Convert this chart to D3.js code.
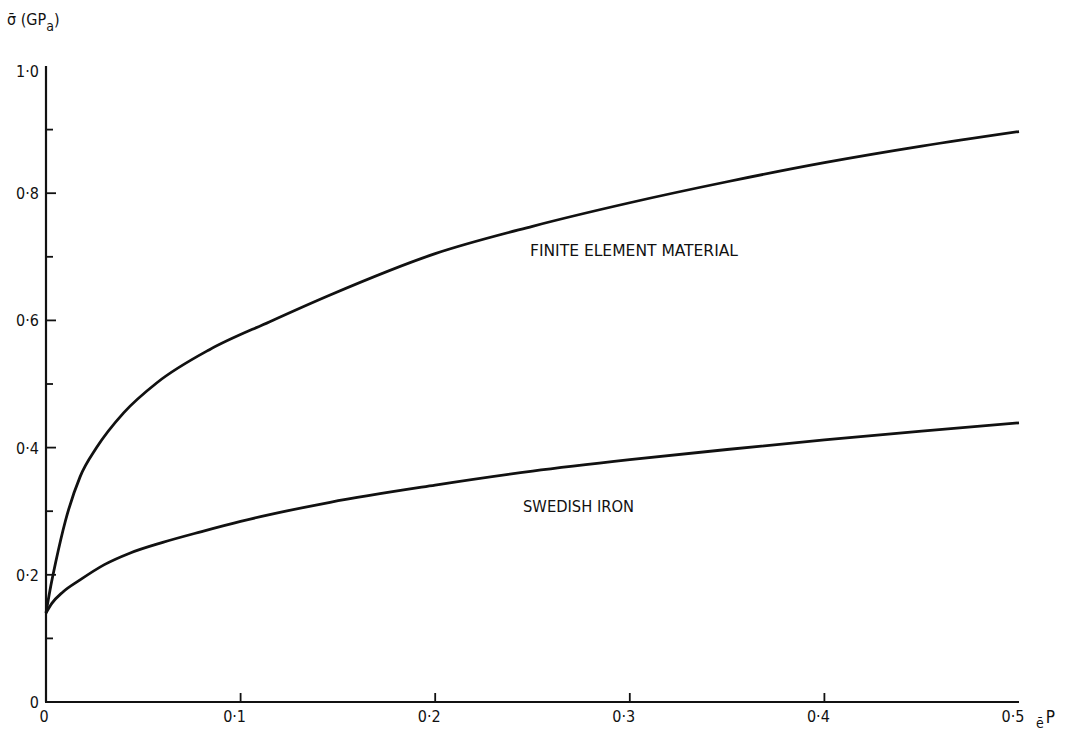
<!DOCTYPE html>
<html>
<head>
<meta charset="utf-8">
<script src="https://cdn.jsdelivr.net/npm/d3@7"></script>
<style>
  html, body { margin: 0; padding: 0; background: #fff; }
  text { font-family: "DejaVu Sans Condensed", "DejaVu Sans", sans-serif; fill: #111; }
</style>
</head>
<body>
<div id="chart"></div>
<script>
const width = 1072;
const height = 731;

// Finite element material curve (strain, stress GPa)
const femStrain = [0, 0.002, 0.005, 0.01, 0.0175, 0.026, 0.04, 0.057, 0.084, 0.115, 0.146, 0.2, 0.25, 0.3, 0.35, 0.4, 0.45, 0.5];
const femStress = [0.14, 0.175, 0.22, 0.285, 0.354, 0.40, 0.455, 0.502, 0.554, 0.598, 0.64, 0.705, 0.748, 0.785, 0.818, 0.848, 0.874, 0.897];

// Swedish iron curve
const ironStrain = [0, 0.003, 0.0087, 0.0175, 0.03, 0.043, 0.06, 0.08, 0.1, 0.146, 0.2, 0.25, 0.3, 0.35, 0.4, 0.45, 0.5];
const ironStress = [0.14, 0.155, 0.173, 0.192, 0.216, 0.234, 0.251, 0.268, 0.284, 0.314, 0.341, 0.363, 0.381, 0.397, 0.412, 0.426, 0.439];

const xTickLabels = ["0", "0·1", "0·2", "0·3", "0·4", "0·5"];
const yTickLabels = ["0", "0·2", "0·4", "0·6", "0·8", "1·0"];

const x = d3.scaleLinear().domain([0, 0.5]).range([46, 1019]);
const y = d3.scaleLinear().domain([0, 1]).range([702, 66]);

const svg = d3.select("#chart").append("svg")
  .attr("width", width)
  .attr("height", height);

// axes lines
svg.append("line")
  .attr("x1", x(0)).attr("x2", x(0))
  .attr("y1", y(0)).attr("y2", y(1))
  .attr("stroke", "#111").attr("stroke-width", 2.2);
svg.append("line")
  .attr("x1", x(0) - 1).attr("x2", x(0.5))
  .attr("y1", y(0)).attr("y2", y(0))
  .attr("stroke", "#111").attr("stroke-width", 2.2);

// y ticks every 0.1, pointing inward
const yTicks = d3.range(1, 10).map(i => i / 10);
svg.selectAll(".ytick")
  .data(yTicks)
  .join("line")
    .attr("class", "ytick")
    .attr("x1", x(0))
    .attr("x2", (d, i) => x(0) + (i % 2 === 1 ? 10 : 7))
    .attr("y1", d => y(d)).attr("y2", d => y(d))
    .attr("stroke", "#111").attr("stroke-width", 1.8);

// x ticks at 0.1, pointing up
const xTicks = [0.1, 0.2, 0.3, 0.4];
svg.selectAll(".xtick")
  .data(xTicks)
  .join("line")
    .attr("class", "xtick")
    .attr("x1", d => x(d)).attr("x2", d => x(d))
    .attr("y1", y(0)).attr("y2", y(0) - 9)
    .attr("stroke", "#111").attr("stroke-width", 1.8);

// y tick labels
svg.selectAll(".ylab")
  .data(yTickLabels)
  .join("text")
    .attr("class", "ylab")
    .attr("x", 39)
    .attr("y", (d, i) => y(i * 0.2) + (i === 5 ? 11 : 6))
    .attr("text-anchor", "end")
    .style("font-size", "16px")
    .text(d => d);

// x tick labels
svg.selectAll(".xlab")
  .data(xTickLabels)
  .join("text")
    .attr("class", "xlab")
    .attr("x", (d, i) => x(i * 0.1) - (i === 0 ? 2 : 6))
    .attr("y", 722)
    .attr("text-anchor", "middle")
    .style("font-size", "16px")
    .text(d => d);

// axis titles
const yTitle = svg.append("text")
  .attr("x", 7).attr("y", 25)
  .style("font-size", "16px");
yTitle.append("tspan").text("σ\u0304 (GP");
yTitle.append("tspan").attr("dy", 6).style("font-size", "14px").text("a");
yTitle.append("tspan").attr("dy", -6).text(")");

const xTitle = svg.append("text")
  .attr("x", 1036).attr("y", 728)
  .style("font-size", "14px");
xTitle.append("tspan").text("e\u0304");
xTitle.append("tspan").attr("dx", 2).attr("dy", -5).style("font-size", "17px").text("P");

// curves
const line = d3.line()
  .x(d => x(d[0]))
  .y(d => y(d[1]))
  .curve(d3.curveMonotoneX);

svg.append("path")
  .datum(femStrain.map((e, i) => [e, femStress[i]]))
  .attr("d", line)
  .attr("fill", "none")
  .attr("stroke", "#111")
  .attr("stroke-width", 2.8);

svg.append("path")
  .datum(ironStrain.map((e, i) => [e, ironStress[i]]))
  .attr("d", line)
  .attr("fill", "none")
  .attr("stroke", "#111")
  .attr("stroke-width", 2.8);

// curve labels
svg.append("text")
  .attr("x", 530).attr("y", 256)
  .attr("textLength", 208)
  .attr("lengthAdjust", "spacingAndGlyphs")
  .style("font-size", "16px")
  .text("FINITE ELEMENT MATERIAL");

svg.append("text")
  .attr("x", 523).attr("y", 512)
  .attr("textLength", 111)
  .attr("lengthAdjust", "spacingAndGlyphs")
  .style("font-size", "16px")
  .text("SWEDISH IRON");
</script>
</body>
</html>
